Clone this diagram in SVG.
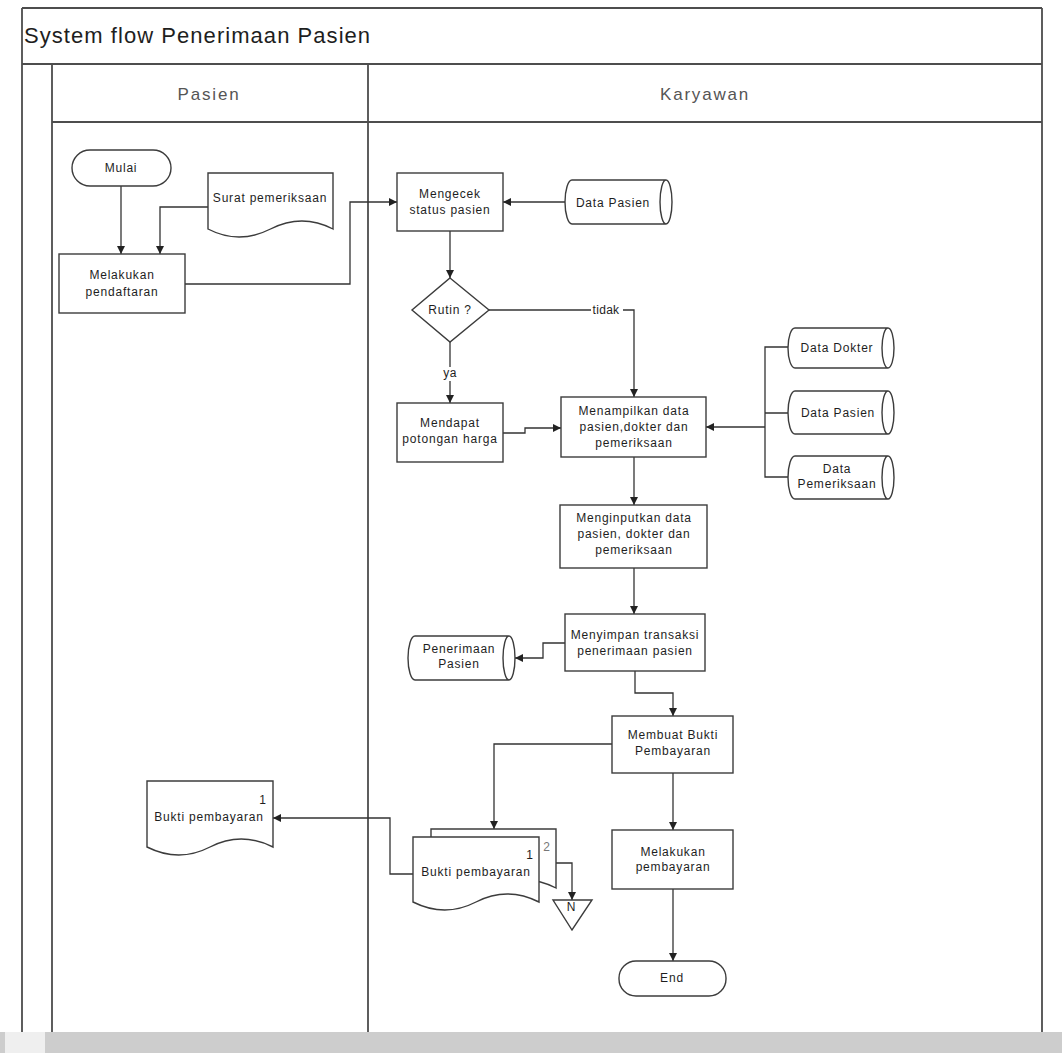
<svg xmlns="http://www.w3.org/2000/svg" width="1062" height="1053" viewBox="0 0 1062 1053">
  <style>
    .frame { fill: none; stroke: #4d4d4d; stroke-width: 1.8; }
    .shape { fill: #ffffff; stroke: #3c3c3c; stroke-width: 1.4; }
    .line { fill: none; stroke: #333333; stroke-width: 1.3; }
    .conn { fill: none; stroke: #333333; stroke-width: 1.3; marker-end: url(#arr); }
    text { font-family: "Liberation Sans", Arial, sans-serif; fill: #1e1e1e; }
    .t { font-size: 12px; letter-spacing: 0.8px; text-anchor: middle; }
    .lane { font-size: 17px; letter-spacing: 1.8px; text-anchor: middle; fill: #555555; }
    .title { font-size: 22px; letter-spacing: 1.05px; }
  </style>
  <defs>
    <marker id="arr" viewBox="0 0 10 10" refX="10" refY="5" markerWidth="8" markerHeight="8" markerUnits="userSpaceOnUse" orient="auto">
      <path d="M0,0 L10,5 L0,10 z" fill="#222222"/>
    </marker>
  </defs>

  <rect width="1062" height="1053" fill="#ffffff"/>

  <!-- swimlane frame -->
  <g id="frame">
    <path class="frame" d="M22,8 H1042 M22,64 H1042 M52,122 H1042 M22,8 V1032 M52,64 V1032 M368,64 V1032 M1042,8 V1032"/>
    <text class="title" x="24" y="43">System flow Penerimaan Pasien</text>
    <text class="lane" x="209" y="100">Pasien</text>
    <text class="lane" x="705" y="100">Karyawan</text>
  </g>

  <!-- connectors -->
  <g id="connectors">
    <path class="conn" d="M121,186 V254"/>
    <path class="conn" d="M208,207 H160 V254"/>
    <path class="conn" d="M185,284 H350 V202 H397"/>
    <path class="conn" d="M565,202 H503"/>
    <path class="conn" d="M450,231 V278"/>
    <path class="line" d="M489,310 H591"/>
    <path class="conn" d="M623,310 H634 V397"/>
    <text class="t" x="606" y="314" style="letter-spacing:0.3px">tidak</text>
    <path class="line" d="M450,342 V367"/>
    <path class="conn" d="M450,381 V403"/>
    <text class="t" x="450" y="377" style="letter-spacing:0.3px">ya</text>
    <path class="conn" d="M503,433 H525 V428 H561"/>
    <path class="line" d="M788,347 H765 V477 H788 M788,413 H765"/>
    <path class="conn" d="M765,427 H706"/>
    <path class="conn" d="M634,457 V505"/>
    <path class="conn" d="M634,568 V614"/>
    <path class="conn" d="M565,643 H543 V658 H515"/>
    <path class="conn" d="M635,671 V693 H673 V716"/>
    <path class="conn" d="M612,744 H494 V829"/>
    <path class="conn" d="M673,773 V830"/>
    <path class="conn" d="M673,889 V961"/>
    <path class="conn" d="M556,863 H572 V900"/>
    <path class="conn" d="M413,874 H390 V818 H273"/>
  </g>

  <!-- Pasien lane -->
  <g id="mulai">
    <rect class="shape" x="72" y="150" width="99" height="36" rx="18"/>
    <text class="t" x="121" y="172">Mulai</text>
  </g>
  <g id="surat-pemeriksaan">
    <path class="shape" d="M208,173 H333 V229 Q302,213 270.5,229 T208,229 Z"/>
    <text class="t" x="270" y="202">Surat pemeriksaan</text>
  </g>
  <g id="melakukan-pendaftaran">
    <rect class="shape" x="59" y="254" width="126" height="59"/>
    <text class="t" x="122" y="279">Melakukan</text>
    <text class="t" x="122" y="296">pendaftaran</text>
  </g>
  <g id="bukti-pembayaran-pasien">
    <path class="shape" d="M147,781 H273 V847 Q241,831 210,847 T147,847 Z"/>
    <text class="t" x="263" y="804">1</text>
    <text class="t" x="209" y="821">Bukti pembayaran</text>
  </g>

  <!-- Karyawan lane -->
  <g id="mengecek-status">
    <rect class="shape" x="397" y="173" width="106" height="58"/>
    <text class="t" x="450" y="198">Mengecek</text>
    <text class="t" x="450" y="214">status pasien</text>
  </g>
  <g id="data-pasien-1">
    <path class="shape" d="M572,180 H666 A6,22 0 0 1 666,224 H572 A7,22 0 0 1 572,180 Z M666,180 A6,22 0 0 0 666,224"/>
    <text class="t" x="613" y="207">Data Pasien</text>
  </g>
  <g id="rutin">
    <path class="shape" d="M450,278 L489,310 L450,342 L412,310 Z"/>
    <text class="t" x="450" y="314">Rutin ?</text>
  </g>
  <g id="mendapat-potongan">
    <rect class="shape" x="397" y="403" width="106" height="59"/>
    <text class="t" x="450" y="427">Mendapat</text>
    <text class="t" x="450" y="443">potongan harga</text>
  </g>
  <g id="menampilkan-data">
    <rect class="shape" x="561" y="397" width="145" height="60"/>
    <text class="t" x="634" y="415">Menampilkan data</text>
    <text class="t" x="634" y="431">pasien,dokter dan</text>
    <text class="t" x="634" y="447">pemeriksaan</text>
  </g>
  <g id="data-dokter">
    <path class="shape" d="M795,328 H888 A6,20 0 0 1 888,368 H795 A7,20 0 0 1 795,328 Z M888,328 A6,20 0 0 0 888,368"/>
    <text class="t" x="837" y="352">Data Dokter</text>
  </g>
  <g id="data-pasien-2">
    <path class="shape" d="M795,391 H888 A6,21.5 0 0 1 888,434 H795 A7,21.5 0 0 1 795,391 Z M888,391 A6,21.5 0 0 0 888,434"/>
    <text class="t" x="838" y="417">Data Pasien</text>
  </g>
  <g id="data-pemeriksaan">
    <path class="shape" d="M795,456 H888 A6,21.5 0 0 1 888,499 H795 A7,21.5 0 0 1 795,456 Z M888,456 A6,21.5 0 0 0 888,499"/>
    <text class="t" x="837" y="473">Data</text>
    <text class="t" x="837" y="488">Pemeriksaan</text>
  </g>
  <g id="menginputkan-data">
    <rect class="shape" x="560" y="505" width="147" height="63"/>
    <text class="t" x="634" y="522">Menginputkan data</text>
    <text class="t" x="634" y="538">pasien, dokter dan</text>
    <text class="t" x="634" y="554">pemeriksaan</text>
  </g>
  <g id="menyimpan-transaksi">
    <rect class="shape" x="565" y="614" width="140" height="57"/>
    <text class="t" x="635" y="639">Menyimpan transaksi</text>
    <text class="t" x="635" y="655">penerimaan pasien</text>
  </g>
  <g id="penerimaan-pasien">
    <path class="shape" d="M415,636 H509 A6,22 0 0 1 509,680 H415 A7,22 0 0 1 415,636 Z M509,636 A6,22 0 0 0 509,680"/>
    <text class="t" x="459" y="653">Penerimaan</text>
    <text class="t" x="459" y="668">Pasien</text>
  </g>
  <g id="membuat-bukti">
    <rect class="shape" x="612" y="716" width="121" height="57"/>
    <text class="t" x="673" y="739">Membuat Bukti</text>
    <text class="t" x="673" y="755">Pembayaran</text>
  </g>
  <g id="bukti-pembayaran-rangkap">
    <path class="shape" d="M431,829 H556 V888 Q525,872 493.5,888 T431,888 Z"/>
    <path class="shape" d="M413,837 H539 V902 Q507,886 476,902 T413,902 Z"/>
    <text class="t" x="547" y="851" style="fill:#777777">2</text>
    <text class="t" x="530" y="859">1</text>
    <text class="t" x="476" y="876">Bukti pembayaran</text>
  </g>
  <g id="arsip-n">
    <path class="shape" d="M553,900 H592 L572,930 Z"/>
    <text class="t" x="571" y="911" style="letter-spacing:0">N</text>
  </g>
  <g id="melakukan-pembayaran">
    <rect class="shape" x="612" y="830" width="121" height="59"/>
    <text class="t" x="673" y="856">Melakukan</text>
    <text class="t" x="673" y="871">pembayaran</text>
  </g>
  <g id="end">
    <rect class="shape" x="619" y="961" width="107" height="35" rx="17"/>
    <text class="t" x="672" y="982">End</text>
  </g>

  <!-- horizontal scroll bar along the bottom edge -->
  <g id="scrollbar">
    <rect x="0" y="1032" width="1062" height="21" fill="#cdcdcd"/>
    <rect x="5" y="1032" width="40" height="21" fill="#efefef"/>
  </g>
</svg>
